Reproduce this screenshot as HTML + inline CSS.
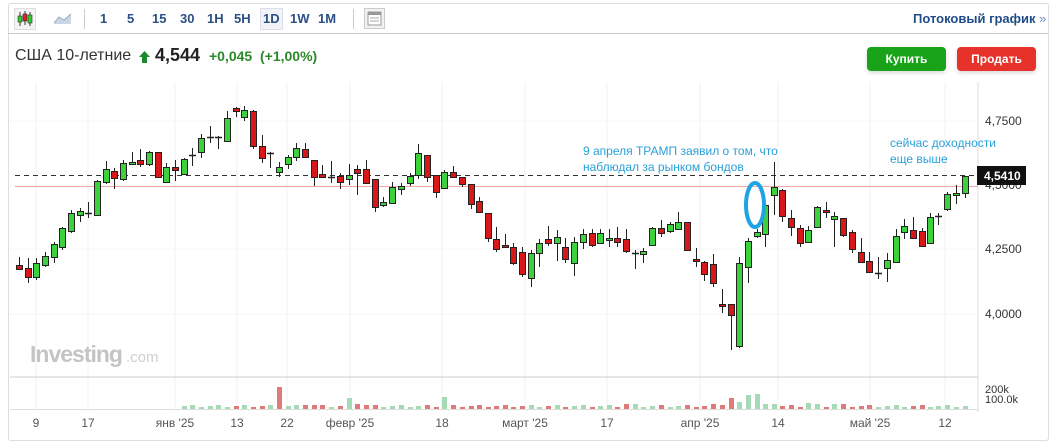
<!DOCTYPE html>
<html><head><meta charset="utf-8"><style>
body{margin:0;width:1054px;height:440px;background:#fff;font-family:"Liberation Sans",sans-serif;overflow:hidden;position:relative}
.t{position:absolute;white-space:nowrap}
.tb{font-size:13px;font-weight:bold;color:#2b4f86;top:11px}
</style></head><body>
<div style="position:absolute;left:8px;top:3px;width:1039px;height:436px;border:1px solid #ddd;border-radius:3px"></div>
<div style="position:absolute;left:8px;top:33px;width:1040px;height:1px;background:#ccc"></div>
<svg style="position:absolute;left:14px;top:8px" width="22" height="22"><rect x="0.5" y="0.5" width="21" height="21" fill="#f4f4f4" stroke="#ddd"/><line x1="6" y1="4" x2="6" y2="18" stroke="#333"/><rect x="4" y="8" width="4" height="6" fill="#3c3" stroke="#333" stroke-width=".6"/><line x1="11" y1="3" x2="11" y2="17" stroke="#333"/><rect x="9" y="6" width="4" height="7" fill="#d22" stroke="#333" stroke-width=".6"/><line x1="16" y1="4" x2="16" y2="18" stroke="#333"/><rect x="14" y="7" width="4" height="8" fill="#3c3" stroke="#333" stroke-width=".6"/></svg>
<svg style="position:absolute;left:54px;top:12px" width="18" height="12"><path d="M0 11 L5 5 L10 8 L17 2 L17 12 L0 12Z" fill="#c9d6e6"/><path d="M0 11 L5 5 L10 8 L17 2" stroke="#9ab" fill="none"/></svg>
<div style="position:absolute;left:84px;top:9px;width:1px;height:20px;background:#ccc"></div>
<div class="t tb" style="left:100px">1</div>
<div class="t tb" style="left:127px">5</div>
<div class="t tb" style="left:152px">15</div>
<div class="t tb" style="left:180px">30</div>
<div class="t tb" style="left:207px">1H</div>
<div class="t tb" style="left:234px">5H</div>
<div style="position:absolute;left:260px;top:8px;width:21px;height:20px;background:#f1f3f6;border:1px solid #dde"></div>
<div class="t tb" style="left:263px">1D</div>
<div class="t tb" style="left:290px">1W</div>
<div class="t tb" style="left:318px">1M</div>
<div style="position:absolute;left:353px;top:9px;width:1px;height:20px;background:#ccc"></div>
<svg style="position:absolute;left:364px;top:8px" width="21" height="21"><rect x=".5" y=".5" width="20" height="20" fill="#f2f2f2" stroke="#ccc"/><rect x="4" y="4" width="13" height="13" fill="#fff" stroke="#999"/><rect x="4" y="4" width="13" height="3" fill="#999"/><line x1="6" y1="10" x2="15" y2="10" stroke="#aaa"/><line x1="6" y1="13" x2="15" y2="13" stroke="#aaa"/></svg>
<div class="t" style="left:913px;top:11px;font-size:13px;font-weight:bold;color:#1f4d8c">Потоковый график <span style="font-weight:normal;color:#6a8fc0">»</span></div>

<div class="t" style="left:15px;top:47px;font-size:16px;color:#333">США 10-летние</div>
<svg style="position:absolute;left:139px;top:51px" width="11" height="12"><path d="M5.5 0 L11 6 L8 6 L8 12 L3 12 L3 6 L0 6Z" fill="#1a8a2a"/></svg>
<div class="t" style="left:155px;top:45px;font-size:18px;font-weight:bold;color:#222">4,544</div>
<div class="t" style="left:209px;top:48px;font-size:14px;font-weight:bold;color:#2a8a2a">+0,045 &nbsp;(+1,00%)</div>
<div class="t" style="left:867px;top:47px;width:79px;height:24px;background:#18a318;border-radius:4px;color:#fff;font-size:12px;font-weight:bold;text-align:center;line-height:24px;box-shadow:0 2px 4px rgba(0,0,0,.15)">Купить</div>
<div class="t" style="left:957px;top:47px;width:79px;height:24px;background:#e6322a;border-radius:4px;color:#fff;font-size:12px;font-weight:bold;text-align:center;line-height:24px;box-shadow:0 2px 4px rgba(0,0,0,.15)">Продать</div>

<svg id="ch" style="position:absolute;left:0;top:0" width="1054" height="440" font-family="Liberation Sans, sans-serif"></svg>
<script>
var s='';
var dl=[[36,'9'],[88,'17'],[175,'янв \'25'],[237,'13'],[287,'22'],[350,'февр \'25'],[442,'18'],[525,'март \'25'],[607,'17'],[700,'апр \'25'],[778,'14'],[870,'май \'25'],[945,'12']];
dl.forEach(function(d){s+='<line x1="'+d[0]+'" y1="82" x2="'+d[0]+'" y2="410" stroke="#f2f2f2"/>';s+='<text x="'+d[0]+'" y="427" font-size="12" fill="#555" text-anchor="middle">'+d[1]+'</text>';});
[121,185,249,314].forEach(function(y){s+='<line x1="10" y1="'+y+'" x2="978" y2="'+y+'" stroke="#f4f4f4"/>';});
s+='<line x1="978" y1="82" x2="978" y2="412" stroke="#ddd"/>';
s+='<line x1="10" y1="377" x2="978" y2="377" stroke="#ccc"/>';
s+='<line x1="10" y1="409.5" x2="978" y2="409.5" stroke="#ddd"/>';
[[121,'4,7500'],[185,'4,5000'],[249,'4,2500'],[314,'4,0000']].forEach(function(a){s+='<text x="985" y="'+(a[0]+4)+'" font-size="12" fill="#333">'+a[1]+'</text>';});
s+='<text x="30" y="362" font-size="23" font-weight="bold" fill="#c4c4c4" letter-spacing="-1">Investing</text><text x="126" y="362" font-size="15" fill="#cfcfcf">.com</text>';
s+='<line x1="15" y1="175.5" x2="978" y2="175.5" stroke="#333" stroke-dasharray="5,4"/>';
s+='<line x1="15" y1="186.5" x2="978" y2="186.5" stroke="#f4a6a6"/>';
var C=[[19,265,269,257,270,'r'],[28,268,277,258,283,'r'],[36,263,277,258,280,'g'],[45,256,265,252,267,'g'],[54,244,257,242,263,'g'],[62,228,247,227,250,'g'],[71,213,231,210,233,'g'],[80,211,215,208,222,'g'],[88,213,214,202,218,'d'],[97,181,215,180,216,'g'],[106,169,182,161,184,'g'],[114,171,178,168,189,'r'],[123,163,179,160,181,'g'],[132,162,164,152,164,'g'],[140,160,164,149,167,'r'],[149,152,164,151,166,'g'],[158,152,177,152,177,'r'],[166,167,182,163,183,'g'],[175,167,170,160,181,'r'],[184,159,174,158,175,'g'],[192,155,156,148,166,'d'],[201,138,152,134,158,'g'],[210,137,138,126,143,'d'],[218,137,138,136,149,'d'],[227,118,141,111,141,'g'],[236,108,111,107,117,'r'],[244,110,117,106,121,'g'],[253,111,146,110,149,'r'],[262,146,158,135,163,'r'],[270,153,154,152,168,'d'],[279,167,172,162,177,'g'],[288,157,164,155,169,'g'],[296,148,157,143,161,'g'],[305,149,157,143,158,'r'],[314,160,177,160,186,'r'],[322,174,177,165,178,'r'],[331,177,178,161,183,'d'],[340,176,182,173,189,'r'],[349,175,179,164,185,'g'],[357,169,173,165,195,'r'],[366,169,183,160,183,'r'],[375,179,207,179,212,'r'],[383,202,205,197,207,'g'],[392,187,203,182,204,'g'],[401,186,189,183,195,'g'],[410,176,183,173,186,'g'],[418,153,175,144,179,'g'],[427,155,177,155,182,'r'],[436,175,192,175,198,'r'],[444,172,188,170,189,'g'],[453,172,177,166,177,'r'],[462,177,184,177,187,'r'],[471,184,204,184,209,'r'],[479,201,212,197,213,'r'],[488,213,238,213,242,'r'],[496,239,249,227,252,'r'],[505,245,247,234,248,'r'],[513,247,263,243,265,'r'],[522,252,274,247,277,'r'],[531,253,278,250,287,'g'],[539,243,253,239,267,'g'],[548,239,243,226,246,'r'],[557,237,243,230,261,'g'],[565,247,259,238,263,'r'],[574,242,263,237,276,'g'],[583,234,242,229,249,'g'],[592,233,245,229,247,'r'],[600,233,243,229,244,'g'],[609,238,240,229,247,'g'],[617,238,242,227,247,'r'],[626,239,251,229,253,'r'],[635,253,254,250,269,'d'],[643,251,254,248,263,'g'],[652,228,245,227,246,'g'],[661,228,233,220,237,'r'],[670,224,231,222,233,'g'],[678,222,229,212,229,'g'],[687,222,250,222,250,'r'],[696,259,261,248,267,'r'],[704,262,274,261,281,'r'],[713,264,283,254,287,'r'],[722,304,306,289,313,'r'],[731,304,315,304,350,'r'],[739,263,346,257,348,'g'],[748,241,267,238,283,'g'],[757,232,236,229,238,'g'],[765,205,234,203,247,'g'],[774,187,195,162,215,'g'],[782,190,216,189,222,'r'],[791,218,227,210,236,'r'],[800,228,243,225,247,'r'],[808,230,242,226,243,'g'],[817,207,227,206,228,'g'],[826,210,212,202,218,'r'],[834,216,219,212,247,'g'],[843,218,235,218,237,'r'],[852,232,249,230,253,'r'],[861,252,262,238,262,'r'],[869,261,272,252,273,'r'],[878,273,274,257,279,'d'],[887,260,268,253,282,'g'],[896,236,262,229,263,'g'],[904,226,232,219,239,'g'],[913,230,238,217,238,'r'],[922,231,246,228,247,'r'],[930,217,243,213,244,'g'],[938,216,217,213,225,'d'],[947,194,209,192,211,'g'],[956,193,195,185,204,'g'],[965,176,193,176,198,'g']];
var V={270:4,279:22,288:3,305:4,314:4,349:11,357:5,366:4,444:12,452:4,626:5,635:5,713:5,722:4,731:11,739:7,748:14,757:15,765:5,774:5,808:6,817:5,834:5,843:5,926:4};
C.forEach(function(c,i){
 var x=c[0];
 s+='<line x1="'+(x+.5)+'" y1="'+c[3]+'" x2="'+(x+.5)+'" y2="'+c[4]+'" stroke="#222"/>';
 if(c[5]=='d'){s+='<line x1="'+(x-3)+'" y1="'+(c[1]+.5)+'" x2="'+(x+4)+'" y2="'+(c[1]+.5)+'" stroke="#222" stroke-width="1.5"/>';}
 else s+='<rect x="'+(x-2.5)+'" y="'+(c[1]+.5)+'" width="6" height="'+Math.max(2,c[2]-c[1])+'" fill="'+(c[5]=='g'?'#3ed13e':'#d81818')+'" stroke="#222"/>';
 if(x>=180){var h=V[x]||(2+(i%3));var red=(c[5]=='r'||x==279);s+='<rect x="'+(x-2)+'" y="'+(409-h)+'" width="5" height="'+h+'" fill="'+(red?'#e07a7a':'#a6d9b6')+'"/>';}
});
s+='<text x="985" y="393" font-size="11" fill="#333">200k</text><text x="985" y="403" font-size="11" fill="#333">100.0k</text>';
s+='<rect x="977" y="166" width="49" height="19" fill="#111"/><text x="984" y="180" font-size="12" font-weight="bold" fill="#fff">4,5410</text>';
s+='<ellipse cx="755" cy="205" rx="9" ry="22" fill="none" stroke="#1ea3e3" stroke-width="4"/>';
s+='<text x="583" y="155" font-size="12" fill="#2aa0d8">9 апреля ТРАМП заявил о том, что</text><text x="583" y="171" font-size="12" fill="#2aa0d8">наблюдал за рынком бондов</text>';
s+='<text x="890" y="147" font-size="12" fill="#2aa0d8">сейчас доходности</text><text x="890" y="163" font-size="12" fill="#2aa0d8">еще выше</text>';
document.getElementById('ch').innerHTML=s;
</script>
</body></html>
